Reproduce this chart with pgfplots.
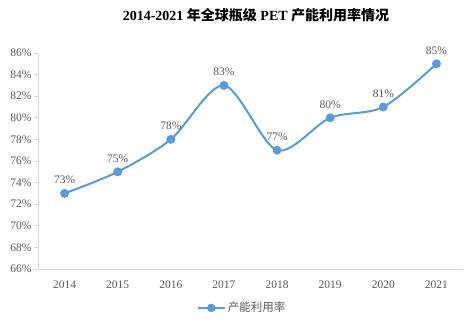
\documentclass[border=0pt]{standalone}
\usepackage{pgfplots}
\pgfplotsset{compat=1.18}
\usepackage{fontspec}
\setmainfont{Liberation Serif}
\newfontfamily\cjk{Noto Sans CJK SC}
\definecolor{ln}{HTML}{5B9BD5}
\definecolor{tx}{HTML}{595959}
\definecolor{ax}{HTML}{D9D9D9}
\begin{document}
\begin{tikzpicture}
\path (-38pt,-54pt) rectangle (428pt,269pt);
\begin{axis}[
  at={(0,0)}, anchor=south west,
  scale only axis, width=425pt, height=216pt,
  xmin=-0.5, xmax=7.5, ymin=66, ymax=86,
  xtick={0,...,7},
  xticklabels={2014,2015,2016,2017,2018,2019,2020,2021},
  ytick={66,68,...,86},
  yticklabel={\pgfmathprintnumber{\tick}\%},
  /pgf/number format/assume math mode=true,
  axis x line*=bottom, axis y line*=left,
  axis line style={ax, line width=0.8pt},
  x axis line style={-}, y axis line style={-},
  major x tick style={draw=none},
  major y tick style={ax, line width=0.8pt},
  tick align=outside, major tick length=4pt,
  ticklabel style={font=\fontsize{11.5}{13}\selectfont, text=tx},
  yticklabel style={xshift=1pt},
  xticklabel style={yshift=-4pt},
  nodes near coords={\pgfmathprintnumber{\pgfplotspointmeta}\%},
  nodes near coords style={font=\fontsize{11.5}{13}\selectfont, text=tx, anchor=south, yshift=5pt},
  legend style={at={(0.48,-0.18)}, anchor=center, draw=none, fill=none,
    font=\cjk\fontsize{11.5}{13}\selectfont, text=tx, legend cell align=left},
  legend image code/.code={
    \draw[ln, line width=2pt] (0cm,0cm) -- (0.95cm,0cm);
    \fill[ln] (0.475cm,0cm) circle (3.2pt);},
  clip=false,
]
\addplot[ln, line width=2pt, smooth, tension=0.5, mark=*, mark size=3.4pt,
  mark options={fill=ln, draw=ln}, point meta=explicit]
  coordinates {(0,73)[73] (1,75)[75] (2,78)[78] (3,83)[83] (4,77)[77] (5,80)[80] (6,81)[81] (7,85)[85]};
\addlegendentry{产能利用率}
\end{axis}
\node[font=\fontsize{14}{16}\selectfont\bfseries] at (218pt,254pt) {2014-2021 {\cjk\bfseries 年全球瓶级} PET {\cjk\bfseries 产能利用率情况}};
\end{tikzpicture}
\end{document}
